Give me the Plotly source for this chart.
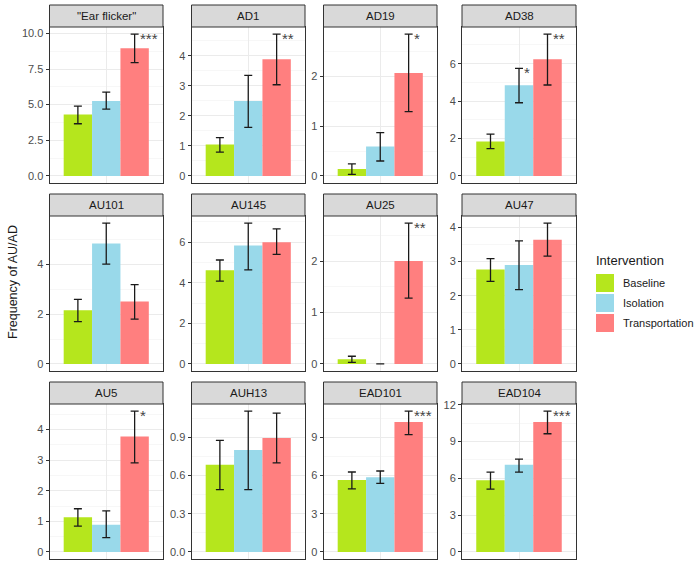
import plotly.graph_objects as go

# ---------------- data ----------------
panels = ['"Ear flicker"', 'AD1', 'AD19', 'AD38',
          'AU101', 'AU145', 'AU25', 'AU47',
          'AU5', 'AUH13', 'EAD101', 'EAD104']
groups = ['Baseline', 'Isolation', 'Transportation']

baseline_mean = [4.30, 1.05, 0.14, 1.84, 2.15, 4.61, 0.09, 2.77, 1.13, 0.686, 5.65, 5.85]
baseline_lo   = [3.66, 0.79, 0.03, 1.46, 1.70, 4.08, 0.03, 2.42, 0.84, 0.49, 4.95, 5.12]
baseline_hi   = [4.89, 1.28, 0.24, 2.23, 2.59, 5.12, 0.15, 3.09, 1.41, 0.877, 6.28, 6.50]

isolation_mean = [5.25, 2.50, 0.59, 4.85, 4.83, 5.83, 0.00, 2.90, 0.89, 0.80, 5.86, 7.10]
isolation_lo   = [4.68, 1.62, 0.30, 3.91, 4.00, 4.63, 0.00, 2.18, 0.47, 0.49, 5.39, 6.50]
isolation_hi   = [5.88, 3.35, 0.87, 5.75, 5.65, 6.94, 0.00, 3.61, 1.34, 1.107, 6.36, 7.56]

transport_mean = [8.95, 3.89, 2.07, 6.23, 2.50, 6.00, 2.00, 3.64, 3.77, 0.895, 10.20, 10.59]
transport_lo   = [7.95, 3.04, 1.29, 4.86, 1.80, 5.40, 1.28, 3.16, 2.91, 0.70, 9.21, 9.63]
transport_hi   = [9.95, 4.73, 2.85, 7.58, 3.18, 6.65, 2.74, 4.13, 4.60, 1.09, 11.07, 11.48]

# significance labels: (panel index, group index, label)
signif = [(0, 2, '***'), (1, 2, '**'), (2, 2, '*'), (3, 1, '*'), (3, 2, '**'),
          (6, 2, '**'), (8, 2, '*'), (10, 2, '***'), (11, 2, '***')]

tick_steps = [2.5, 1, 1, 2, 2, 2, 1, 1, 1, 0.3, 3, 3]
tick_formats = ['.1f', 'd', 'd', 'd', 'd', 'd', 'd', 'd', 'd', '.1f', 'd', 'd']

colors = ['#B5E61D', '#99D9EA', '#FF7F7F']

# ---------------- layout geometry (pixels) ----------------
W, H = 700, 565
col_px = [(49.5, 163), (191.5, 305), (323.5, 437), (462, 576)]
row_px = [(27, 183), (216, 371), (404, 559)]   # plot areas
strip_h = 22


def px(xp):
    return xp / W


def py(yp):
    return 1 - yp / H


means = [baseline_mean, isolation_mean, transport_mean]
los = [baseline_lo, isolation_lo, transport_lo]
his = [baseline_hi, isolation_hi, transport_hi]

fig = go.Figure()
shapes = []
annotations = []
FONT = 'Liberation Sans, Arial, sans-serif'
layout = dict(width=W, height=H, autosize=False,
              margin=dict(l=0, r=0, t=0, b=0, pad=0, autoexpand=False),
              plot_bgcolor='white', paper_bgcolor='white',
              barmode='group', bargap=0.1, bargroupgap=0,
              showlegend=False, font=dict(family=FONT))

for i, name in enumerate(panels):
    r, c = divmod(i, 4)
    sfx = '' if i == 0 else str(i + 1)
    xref, yref = 'x' + sfx, 'y' + sfx
    for g in range(3):
        m = means[g][i]
        fig.add_trace(go.Bar(
            x=[name], y=[m], name=groups[g], xaxis=xref, yaxis=yref,
            marker=dict(color=colors[g], line=dict(width=0)),
            error_y=dict(type='data', symmetric=False,
                         array=[his[g][i] - m], arrayminus=[m - los[g][i]],
                         color='#1A1A1A', thickness=1.3, width=4),
            hoverinfo='skip'))
    top = max(his[0][i], his[1][i], his[2][i])
    x0, x1 = col_px[c]
    y0, y1 = row_px[r]
    step = tick_steps[i]
    layout['xaxis' + sfx] = dict(
        domain=[px(x0), px(x1)], anchor=yref, type='category',
        range=[-0.6, 0.6], showticklabels=False, ticks='', automargin=False,
        showgrid=True, gridcolor='#EBEBEB', gridwidth=1,
        showline=True, mirror=True, linecolor='#333333', linewidth=1,
        zeroline=False, fixedrange=True)
    layout['yaxis' + sfx] = dict(
        domain=[py(y1), py(y0)], anchor=xref, automargin=False,
        range=[-0.05 * top, 1.05 * top], tick0=0, dtick=step,
        tickformat=tick_formats[i], ticks='outside', ticklen=3,
        tickcolor='#333333', tickwidth=1,
        tickfont=dict(size=11, color='#4D4D4D', family=FONT),
        showgrid=True, gridcolor='#EBEBEB', gridwidth=1,
        minor=dict(dtick=step / 2, tick0=0, showgrid=True,
                   gridcolor='#F2F2F2', gridwidth=0.6),
        showline=True, mirror=True, linecolor='#333333', linewidth=1,
        zeroline=False, fixedrange=True)
    # strip
    shapes.append(dict(type='rect', xref='paper', yref='paper',
                       x0=px(x0), x1=px(x1),
                       y0=py(y0), y1=py(y0 - strip_h),
                       fillcolor='#D9D9D9', line=dict(color='#333333', width=1)))
    annotations.append(dict(xref='paper', yref='paper',
                            x=px((x0 + x1) / 2), y=py(y0 - strip_h / 2),
                            text=name, showarrow=False,
                            font=dict(size=11.5, color='#1A1A1A', family=FONT),
                            xanchor='center', yanchor='middle'))

# significance stars
for (pi, gi, lab) in signif:
    sfx = '' if pi == 0 else str(pi + 1)
    annotations.append(dict(xref='x' + sfx, yref='y' + sfx,
                            x=(gi - 1) * 0.3, y=his[gi][pi], text=lab,
                            showarrow=False, xanchor='left', yanchor='middle',
                            xshift=3, yshift=-4,
                            font=dict(size=15, color='#444444', family=FONT)))

# y axis title
annotations.append(dict(xref='paper', yref='paper', x=px(13), y=py(282),
                        text='Frequency of AU/AD', textangle=-90, showarrow=False,
                        xanchor='center', yanchor='middle',
                        font=dict(size=12.5, color='#1A1A1A', family=FONT)))

# legend (manual)
annotations.append(dict(xref='paper', yref='paper', x=px(594), y=py(260),
                        text='Intervention', showarrow=False,
                        xanchor='left', yanchor='middle',
                        font=dict(size=13, color='#1A1A1A', family=FONT)))
key_top = 274
key_h = 18
key_pitch = 20
for g in range(3):
    ky0 = key_top + g * key_pitch
    shapes.append(dict(type='rect', xref='paper', yref='paper',
                       x0=px(596), x1=px(614),
                       y0=py(ky0 + key_h), y1=py(ky0),
                       fillcolor=colors[g], line=dict(width=0)))
    annotations.append(dict(xref='paper', yref='paper', x=px(621),
                            y=py(ky0 + key_h / 2), text=groups[g],
                            showarrow=False, xanchor='left', yanchor='middle',
                            font=dict(size=11, color='#1A1A1A', family=FONT)))

layout['shapes'] = shapes
layout['annotations'] = annotations
fig.update_layout(**layout)
fig.write_html('out.html',
               config={'displayModeBar': False, 'staticPlot': True},
               post_script="document.body.style.margin='0';"
                           "document.documentElement.style.overflow='hidden';")
